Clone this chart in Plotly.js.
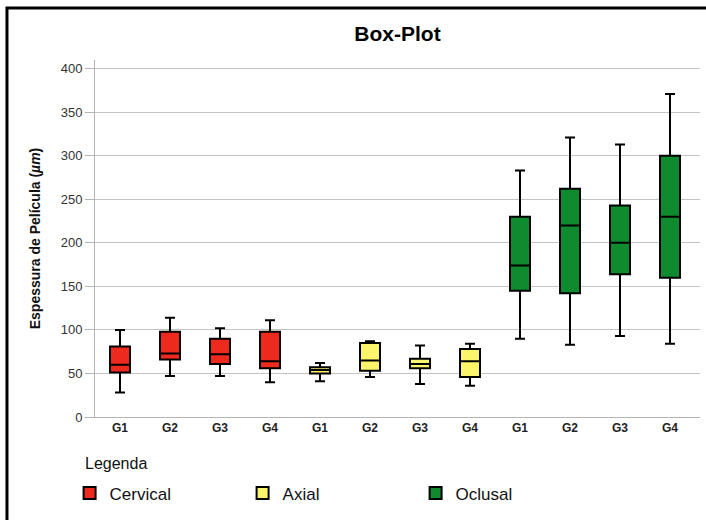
<!DOCTYPE html>
<html>
<head>
<meta charset="utf-8">
<script src="https://cdn.plot.ly/plotly-3.0.1.min.js"></script>
<style>html,body{margin:0;padding:0;background:#fff;}#chart{width:706px;height:520px;}</style>
</head>
<body>
<div id="chart"></div>
<script>
// Category labels (repeated per group)
var groupLabels = ["G1", "G2", "G3", "G4"];
var seriesNames = ["Cervical", "Axial", "Oclusal"];

// Cervical
var cervicalLow    = [28, 47, 47, 40];
var cervicalQ1     = [51, 66, 61, 56];
var cervicalMedian = [60, 73, 72, 64];
var cervicalQ3     = [81, 98, 90, 98];
var cervicalHigh   = [100, 114, 102, 111];

// Axial
var axialLow    = [41, 46, 38, 36];
var axialQ1     = [50, 53, 56, 46];
var axialMedian = [54, 65, 61, 64];
var axialQ3     = [57, 85, 67, 78];
var axialHigh   = [62, 87, 82, 84];

// Oclusal
var oclusalLow    = [90, 83, 93, 84];
var oclusalQ1     = [145, 142, 164, 160];
var oclusalMedian = [174, 220, 200, 230];
var oclusalQ3     = [230, 262, 243, 300];
var oclusalHigh   = [283, 321, 313, 371];

var colors = ["#ee2a1e", "#fbf56c", "#0f8a2e"];
var allData = [
  [cervicalLow, cervicalQ1, cervicalMedian, cervicalQ3, cervicalHigh],
  [axialLow, axialQ1, axialMedian, axialQ3, axialHigh],
  [oclusalLow, oclusalQ1, oclusalMedian, oclusalQ3, oclusalHigh]
];

var traces = [];
var tickvals = [], ticktext = [];
allData.forEach(function (d, s) {
  var xs = groupLabels.map(function (g, i) { return s * groupLabels.length + i; });
  xs.forEach(function (x, i) { tickvals.push(x); ticktext.push(groupLabels[i]); });
  traces.push({
    type: "box",
    name: seriesNames[s],
    x: xs,
    lowerfence: d[0],
    q1: d[1],
    median: d[2],
    q3: d[3],
    upperfence: d[4],
    boxpoints: false,
    width: 0.4,
    whiskerwidth: 0.5,
    fillcolor: colors[s],
    line: { color: "#000", width: 2 },
    hoverinfo: "skip"
  });
});

var layout = {
  width: 706, height: 520,
  margin: { l: 95, r: 6, t: 60, b: 103, autoexpand: false },
  paper_bgcolor: "#fff", plot_bgcolor: "#fff",
  font: { family: "Liberation Sans, Arial, sans-serif", color: "#222" },
  title: { text: "<b>Box-Plot</b>", font: { size: 21, color: "#000" }, x: 0.5, xanchor: "center", y: 0.935, yanchor: "middle", xref: "paper" },
  boxmode: "overlay",
  showlegend: true,
  legend: {
    orientation: "h",
    x: -0.042, xanchor: "left",
    y: -0.164, yanchor: "top",
    font: { size: 17, color: "#111" },
    entrywidth: 128, entrywidthmode: "pixels",
    itemwidth: 30,
    tracegroupgap: 0,
    bgcolor: "rgba(0,0,0,0)"
  },
  annotations: [
    { text: "Legenda", xref: "paper", yref: "paper", x: -0.02, y: -0.13,
      xanchor: "left", yanchor: "middle", showarrow: false,
      font: { size: 16, color: "#111" } }
  ],
  xaxis: {
    range: [-0.5, 11.6],
    tickvals: tickvals, ticktext: ticktext,
    tickfont: { size: 12, color: "#222", family: "Liberation Sans, Arial, sans-serif", weight: "bold" },
    showgrid: false, zeroline: false,
    showline: true, linecolor: "#b5b5b5", linewidth: 1,
    ticks: "", fixedrange: true
  },
  yaxis: {
    range: [0, 410],
    tickvals: [0, 50, 100, 150, 200, 250, 300, 350, 400],
    tickfont: { size: 13, color: "#333" },
    showgrid: true, gridcolor: "#c4c4c4", gridwidth: 1,
    zeroline: false,
    showline: true, linecolor: "#b5b5b5", linewidth: 1,
    ticks: "outside", ticklen: 9, tickcolor: "#b5b5b5",
    title: { text: "<b>Espessura de Película (<i>µm</i>)</b>", font: { size: 14, color: "#111" }, standoff: 16 },
    fixedrange: true
  },
  shapes: [
    { type: "path", xref: "paper", yref: "paper",
      path: "M -0.1455 -0.35 L -0.1455 1.1457 L 1.05 1.1457",
      line: { color: "#000", width: 3 } }
  ]
};

Plotly.newPlot("chart", traces, layout, { displayModeBar: false, staticPlot: true });
</script>
</body>
</html>
